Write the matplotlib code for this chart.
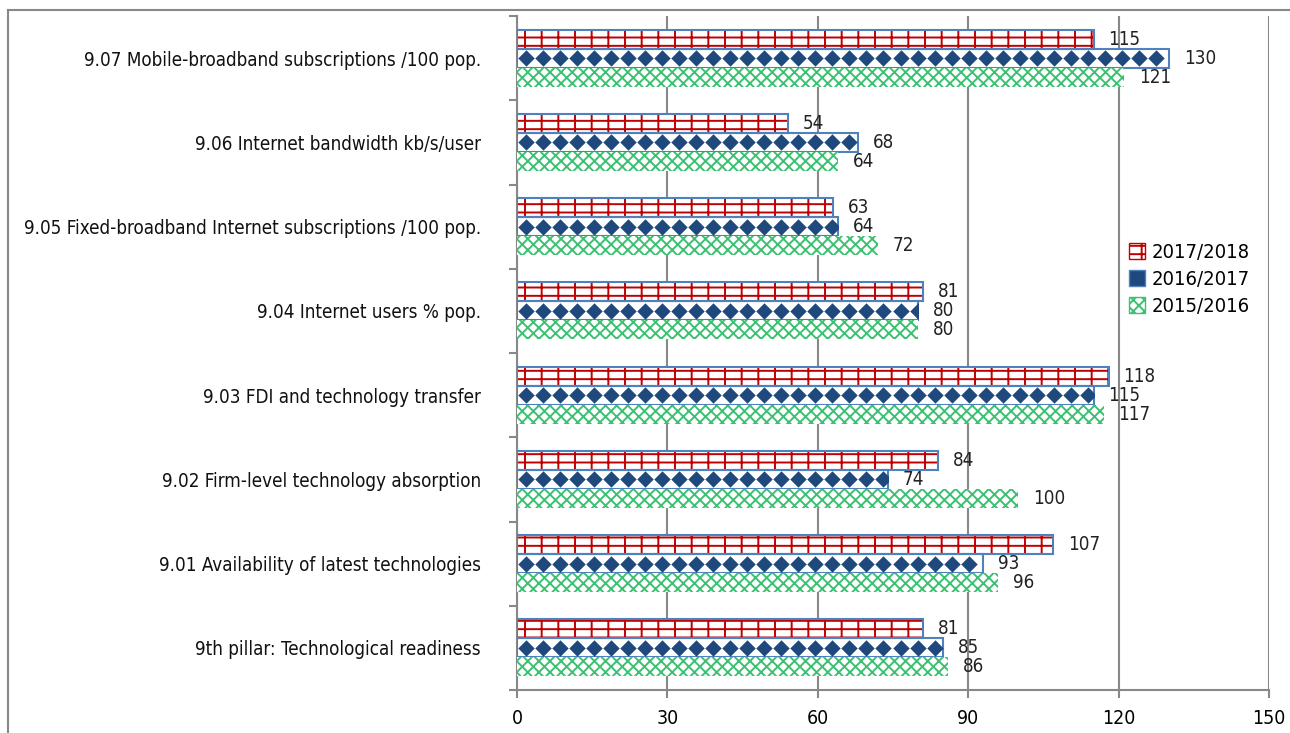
import numpy as np
import matplotlib.pyplot as plt
from matplotlib.lines import Line2D
from matplotlib.patches import Patch

plt.rcParams['font.family'] = ['DejaVu Sans']
plt.rcParams['font.stretch'] = 'condensed'
plt.rcParams['hatch.linewidth'] = 1.4

categories = ['9th pillar: Technological readiness',
              '9.01 Availability of latest technologies',
              '9.02 Firm-level technology absorption',
              '9.03 FDI and technology transfer',
              '9.04 Internet users % pop.',
              '9.05 Fixed-broadband Internet subscriptions /100 pop.',
              '9.06 Internet bandwidth kb/s/user',
              '9.07 Mobile-broadband subscriptions /100 pop.']
s2017 = [81, 107, 84, 118, 81, 63, 54, 115]
s2016 = [85, 93, 74, 115, 80, 64, 68, 130]
s2015 = [86, 96, 100, 117, 80, 72, 64, 121]

fig = plt.figure(figsize=(12.9, 7.33), dpi=100)
ax = fig.add_axes([517/1290, 1 - 690/733, 752/1290, 674/733])

y = np.arange(len(categories))
h = 0.225
blue_edge = '#4F81BD'
green = '#3CC173'

# 2017/2018 - red bricks
b1 = ax.barh(y + h, s2017, height=h, color='white', edgecolor='#C00000', hatch='--|', linewidth=0, zorder=3)
ax.barh(y + h, s2017, height=h, color='none', edgecolor=blue_edge, linewidth=1.5, zorder=4)

# 2016/2017 - dark blue diamonds
b2 = ax.barh(y, s2016, height=h, color='white', edgecolor=blue_edge, linewidth=1.5, zorder=3)
for bar, v, yy in zip(b2, s2016, y):
    xs = np.arange(1.7, v, 3.4)
    sc = ax.scatter(xs, np.full(len(xs), yy), marker='D', s=70, color='#1F497D', linewidths=0, zorder=3.5)
    sc.set_clip_path(bar)

# 2015/2016 - green zigzag
b3 = ax.barh(y - h, s2015, height=h, color='white', edgecolor=green, hatch='xxx', linewidth=0, zorder=3)

for vals, dy in [(s2017, h), (s2016, 0), (s2015, -h)]:
    for v, yy in zip(vals, y):
        ax.text(v + 3, yy + dy, str(v), va='center', ha='left', fontsize=13.5, color='#222222')

ax.set_xlim(0, 150)
ax.set_xticks(np.arange(0, 151, 30))
ax.set_ylim(-0.5, len(categories) - 0.5)
ax.set_yticks(y)
ax.set_yticklabels(categories, fontsize=13.5, color='#111111')
ax.set_yticks(np.arange(-0.5, len(categories), 1), minor=True)
ax.tick_params(axis='y', which='major', length=0, pad=26)
ax.tick_params(axis='y', which='minor', length=6, color='#888888', width=1.5)
ax.tick_params(axis='x', length=6, color='#888888', width=1.5, labelsize=14, pad=8)

ax.grid(axis='x', color='#888888', linewidth=1.5, zorder=0)
ax.set_axisbelow(True)
for side in ['top', 'right']:
    ax.spines[side].set_visible(False)
ax.spines['left'].set_color('#888888')
ax.spines['left'].set_linewidth(1.5)
ax.spines['bottom'].set_color('#888888')
ax.spines['bottom'].set_linewidth(1.5)

handles = [Patch(facecolor='white', edgecolor='#C00000', hatch='--|'),
           Patch(facecolor='#1F497D', edgecolor=blue_edge),
           Patch(facecolor='white', edgecolor=green, hatch='xxx')]
ax.legend(handles, ['2017/2018', '2016/2017', '2015/2016'], loc='upper left',
          bbox_to_anchor=(0.79, 0.69), frameon=False, fontsize=14.5,
          handlelength=0.8, handleheight=0.8, handletextpad=0.3, labelspacing=0.4)

fig.add_artist(Line2D([8/1290, 8/1290], [0, 1 - 10/733], transform=fig.transFigure, color='#888888', lw=1.5))
fig.add_artist(Line2D([8/1290, 1], [1 - 10/733, 1 - 10/733], transform=fig.transFigure, color='#888888', lw=1.5))

fig.savefig('out.png', dpi=100)
